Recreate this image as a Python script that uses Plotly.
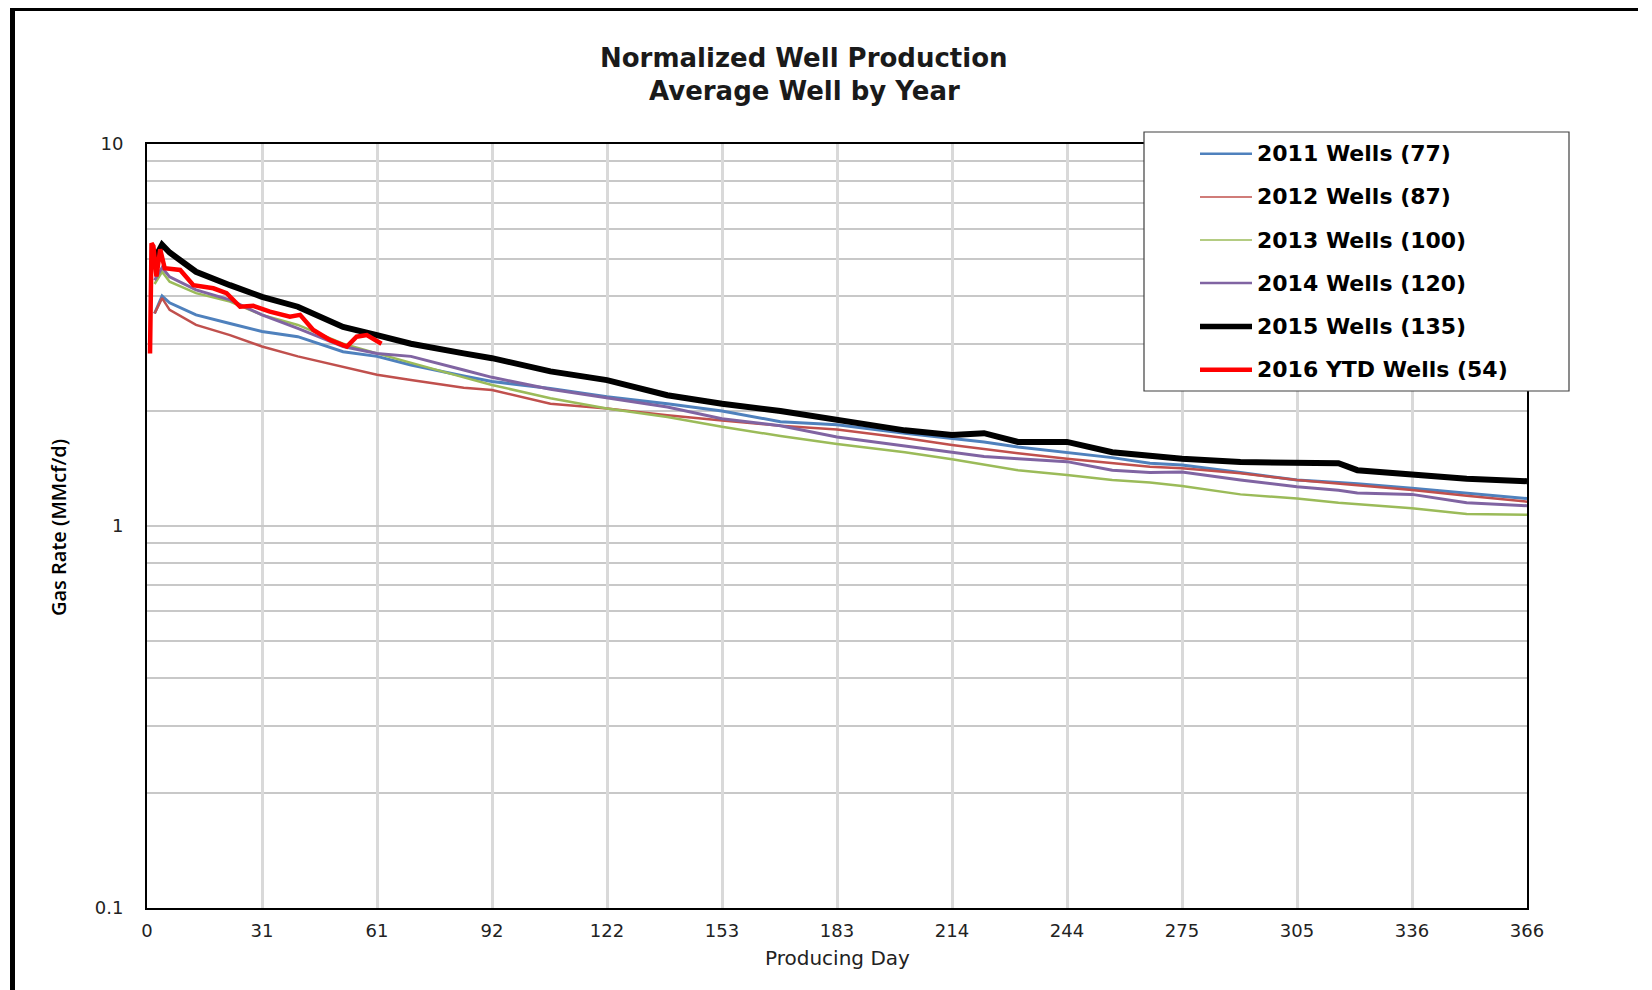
import plotly.graph_objects as go

# ---------------- data ----------------
days = [2, 4, 6, 13, 22, 30.5, 40, 52, 61, 70, 84, 91.5, 107, 122, 138, 152.5,
        168, 183, 201, 213.5, 222, 231, 244, 256, 266, 274.5, 290, 305, 316,
        321, 335.5, 350, 366]

wells_2011 = [3.6, 4.0, 3.84, 3.57, 3.39, 3.23, 3.13, 2.86, 2.78, 2.64, 2.47, 2.39,
              2.29, 2.18, 2.09, 2.0, 1.875, 1.84, 1.75, 1.70, 1.66, 1.61, 1.56,
              1.51, 1.46, 1.444, 1.38, 1.32, 1.30, 1.29, 1.255, 1.22, 1.18]
wells_2012 = [3.6, 3.95, 3.68, 3.36, 3.16, 2.95, 2.78, 2.61, 2.49, 2.41, 2.30, 2.27,
              2.09, 2.03, 1.95, 1.89, 1.83, 1.79, 1.70, 1.63, 1.59, 1.55, 1.50,
              1.46, 1.43, 1.416, 1.374, 1.32, 1.29, 1.28, 1.243, 1.20, 1.158]
wells_2013 = [4.3, 4.63, 4.36, 4.07, 3.87, 3.57, 3.36, 3.0, 2.83, 2.67, 2.45, 2.34,
              2.16, 2.03, 1.93, 1.82, 1.72, 1.64, 1.56, 1.495, 1.45, 1.40, 1.36,
              1.32, 1.30, 1.273, 1.21, 1.18, 1.15, 1.14, 1.113, 1.075, 1.07]
wells_2014 = [4.4, 4.75, 4.49, 4.15, 3.91, 3.57, 3.29, 2.95, 2.83, 2.78, 2.56, 2.45,
              2.28, 2.17, 2.05, 1.91, 1.83, 1.71, 1.62, 1.56, 1.52, 1.50, 1.474,
              1.40, 1.38, 1.385, 1.32, 1.267, 1.24, 1.22, 1.21, 1.15, 1.13]
wells_2015 = [5.0, 5.45, 5.2, 4.63, 4.27, 3.98, 3.75, 3.32, 3.16, 3.0, 2.83, 2.75,
              2.54, 2.41, 2.20, 2.09, 2.0, 1.89, 1.78, 1.73, 1.75, 1.66, 1.66,
              1.56, 1.53, 1.50, 1.47, 1.46, 1.46, 1.40, 1.36, 1.33, 1.31]

days_2016 = [0.8, 1.2, 1.7, 2.5, 3.5, 4.7, 8.8, 12.3, 17.6, 21.1, 24.7, 28.2, 32.6,
             37.9, 40.6, 44.1, 48.5, 53, 55.6, 58.3, 62.2]
wells_2016 = [2.83, 5.5, 5.4, 4.5, 5.3, 4.73, 4.68, 4.27, 4.19, 4.07, 3.75, 3.77,
              3.64, 3.53, 3.57, 3.26, 3.07, 2.95, 3.13, 3.16, 3.0]

series_names = ["2011 Wells (77)", "2012 Wells (87)", "2013 Wells (100)",
                "2014 Wells (120)", "2015 Wells (135)", "2016 YTD Wells (54)"]

x_tick_positions = [0, 30.5, 61, 91.5, 122, 152.5, 183, 213.5, 244, 274.5, 305, 335.5, 366]
x_tick_labels = ["0", "31", "61", "92", "122", "153", "183", "214", "244", "275", "305", "336", "366"]
y_tick_values = [0.1, 1, 10]
y_tick_labels = ["0.1", "1", "10"]
y_minor_values = [0.2, 0.3, 0.4, 0.5, 0.6, 0.7, 0.8, 0.9, 2, 3, 4, 5, 6, 7, 8, 9]

# ---------------- styling ----------------
OFF = 8  # the page body margin shifts the figure by this much
W, H = 1652 - OFF, 990 - OFF
# plot area in page pixels
L, R, T, B = 147, 1527, 144, 908
colors = ["#4F81BD", "#C0504D", "#9BBB59", "#8064A2", "#000000", "#FF0000"]
widths = [3, 2.5, 2.5, 3, 6, 4.5]


def px(xp):
    return (xp - L) / (R - L)


def py(yp):
    return (B - yp) / (B - T)


fig = go.Figure()
series_x = [days, days, days, days, days, days_2016]
series_y = [wells_2011, wells_2012, wells_2013, wells_2014, wells_2015, wells_2016]
for name, xs, ys, c, w in zip(series_names, series_x, series_y, colors, widths):
    fig.add_trace(go.Scatter(x=xs, y=ys, mode="lines", name=name,
                             line=dict(color=c, width=w), showlegend=False))

shapes = []
annotations = []

# outer frame (left and top thick black lines)
shapes.append(dict(type="line", xref="paper", yref="paper",
                   x0=px(12.5), x1=px(12.5), y0=py(9), y1=py(1000),
                   line=dict(color="black", width=5)))
shapes.append(dict(type="line", xref="paper", yref="paper",
                   x0=px(10), x1=px(1638), y0=py(9.5), y1=py(9.5),
                   line=dict(color="black", width=3)))

# legend box
shapes.append(dict(type="rect", xref="paper", yref="paper",
                   x0=px(1144), x1=px(1569), y0=py(132), y1=py(391),
                   fillcolor="white", line=dict(color="#404040", width=1.2),
                   layer="above"))
leg_y = [153.8, 197, 240, 283, 326.5, 369.7]
leg_w = [2.5, 1.5, 1.5, 2.5, 5.5, 4.5]
for name, c, w, yy in zip(series_names, colors, leg_w, leg_y):
    shapes.append(dict(type="line", xref="paper", yref="paper",
                       x0=px(1200), x1=px(1252), y0=py(yy), y1=py(yy),
                       line=dict(color=c, width=w), layer="above"))
    annotations.append(dict(xref="paper", yref="paper", x=px(1255), y=py(yy),
                            xanchor="left", yanchor="middle", showarrow=False,
                            text=name,
                            font=dict(family="DejaVu Sans", size=22, color="black",
                                      weight="bold")))

# title
annotations.append(dict(xref="paper", yref="paper", x=px(804), y=py(58),
                        xanchor="center", yanchor="middle", showarrow=False,
                        text="<b>Normalized Well Production</b>",
                        font=dict(family="DejaVu Sans", size=26, color="#1a1a1a")))
annotations.append(dict(xref="paper", yref="paper", x=px(804), y=py(91),
                        xanchor="center", yanchor="middle", showarrow=False,
                        text="<b>Average Well by Year</b>",
                        font=dict(family="DejaVu Sans", size=26, color="#1a1a1a")))
# axis titles
annotations.append(dict(xref="paper", yref="paper", x=px(58), y=py(528),
                        xanchor="center", yanchor="middle", showarrow=False,
                        text="Gas Rate (MMcf/d)", textangle=-90,
                        font=dict(family="Open Sans", size=20, color="black",
                                  weight=600)))
annotations.append(dict(xref="paper", yref="paper", x=px(837), y=py(958),
                        xanchor="center", yanchor="middle", showarrow=False,
                        text="Producing Day",
                        font=dict(family="DejaVu Sans", size=20, color="#222")))

fig.update_layout(
    width=W, height=H,
    margin=dict(l=L - OFF, r=W - (R - OFF), t=T - OFF, b=H - (B - OFF), pad=0),
    paper_bgcolor="white", plot_bgcolor="white",
    shapes=shapes, annotations=annotations,
    showlegend=False,
    xaxis=dict(range=[0, 366], tickvals=x_tick_positions, ticktext=x_tick_labels,
               showgrid=True, gridcolor="#D9D9D9", gridwidth=3,
               showline=True, linecolor="black", linewidth=2, mirror=True,
               ticks="", ticklabelstandoff=5, zeroline=False,
               tickfont=dict(family="DejaVu Sans", size=18, color="#222")),
    yaxis=dict(type="log", range=[-1, 1], tickvals=y_tick_values, ticktext=y_tick_labels,
               showgrid=True, gridcolor="#C8C8C8", gridwidth=1.5,
               minor=dict(tickvals=y_minor_values, showgrid=True, gridcolor="#C8C8C8",
                          gridwidth=1.5, ticks=""),
               showline=True, linecolor="black", linewidth=2, mirror=True,
               ticks="", ticklabelstandoff=18, zeroline=False,
               tickfont=dict(family="DejaVu Sans", size=18, color="#222")),
)

fig.write_html("out.html")
